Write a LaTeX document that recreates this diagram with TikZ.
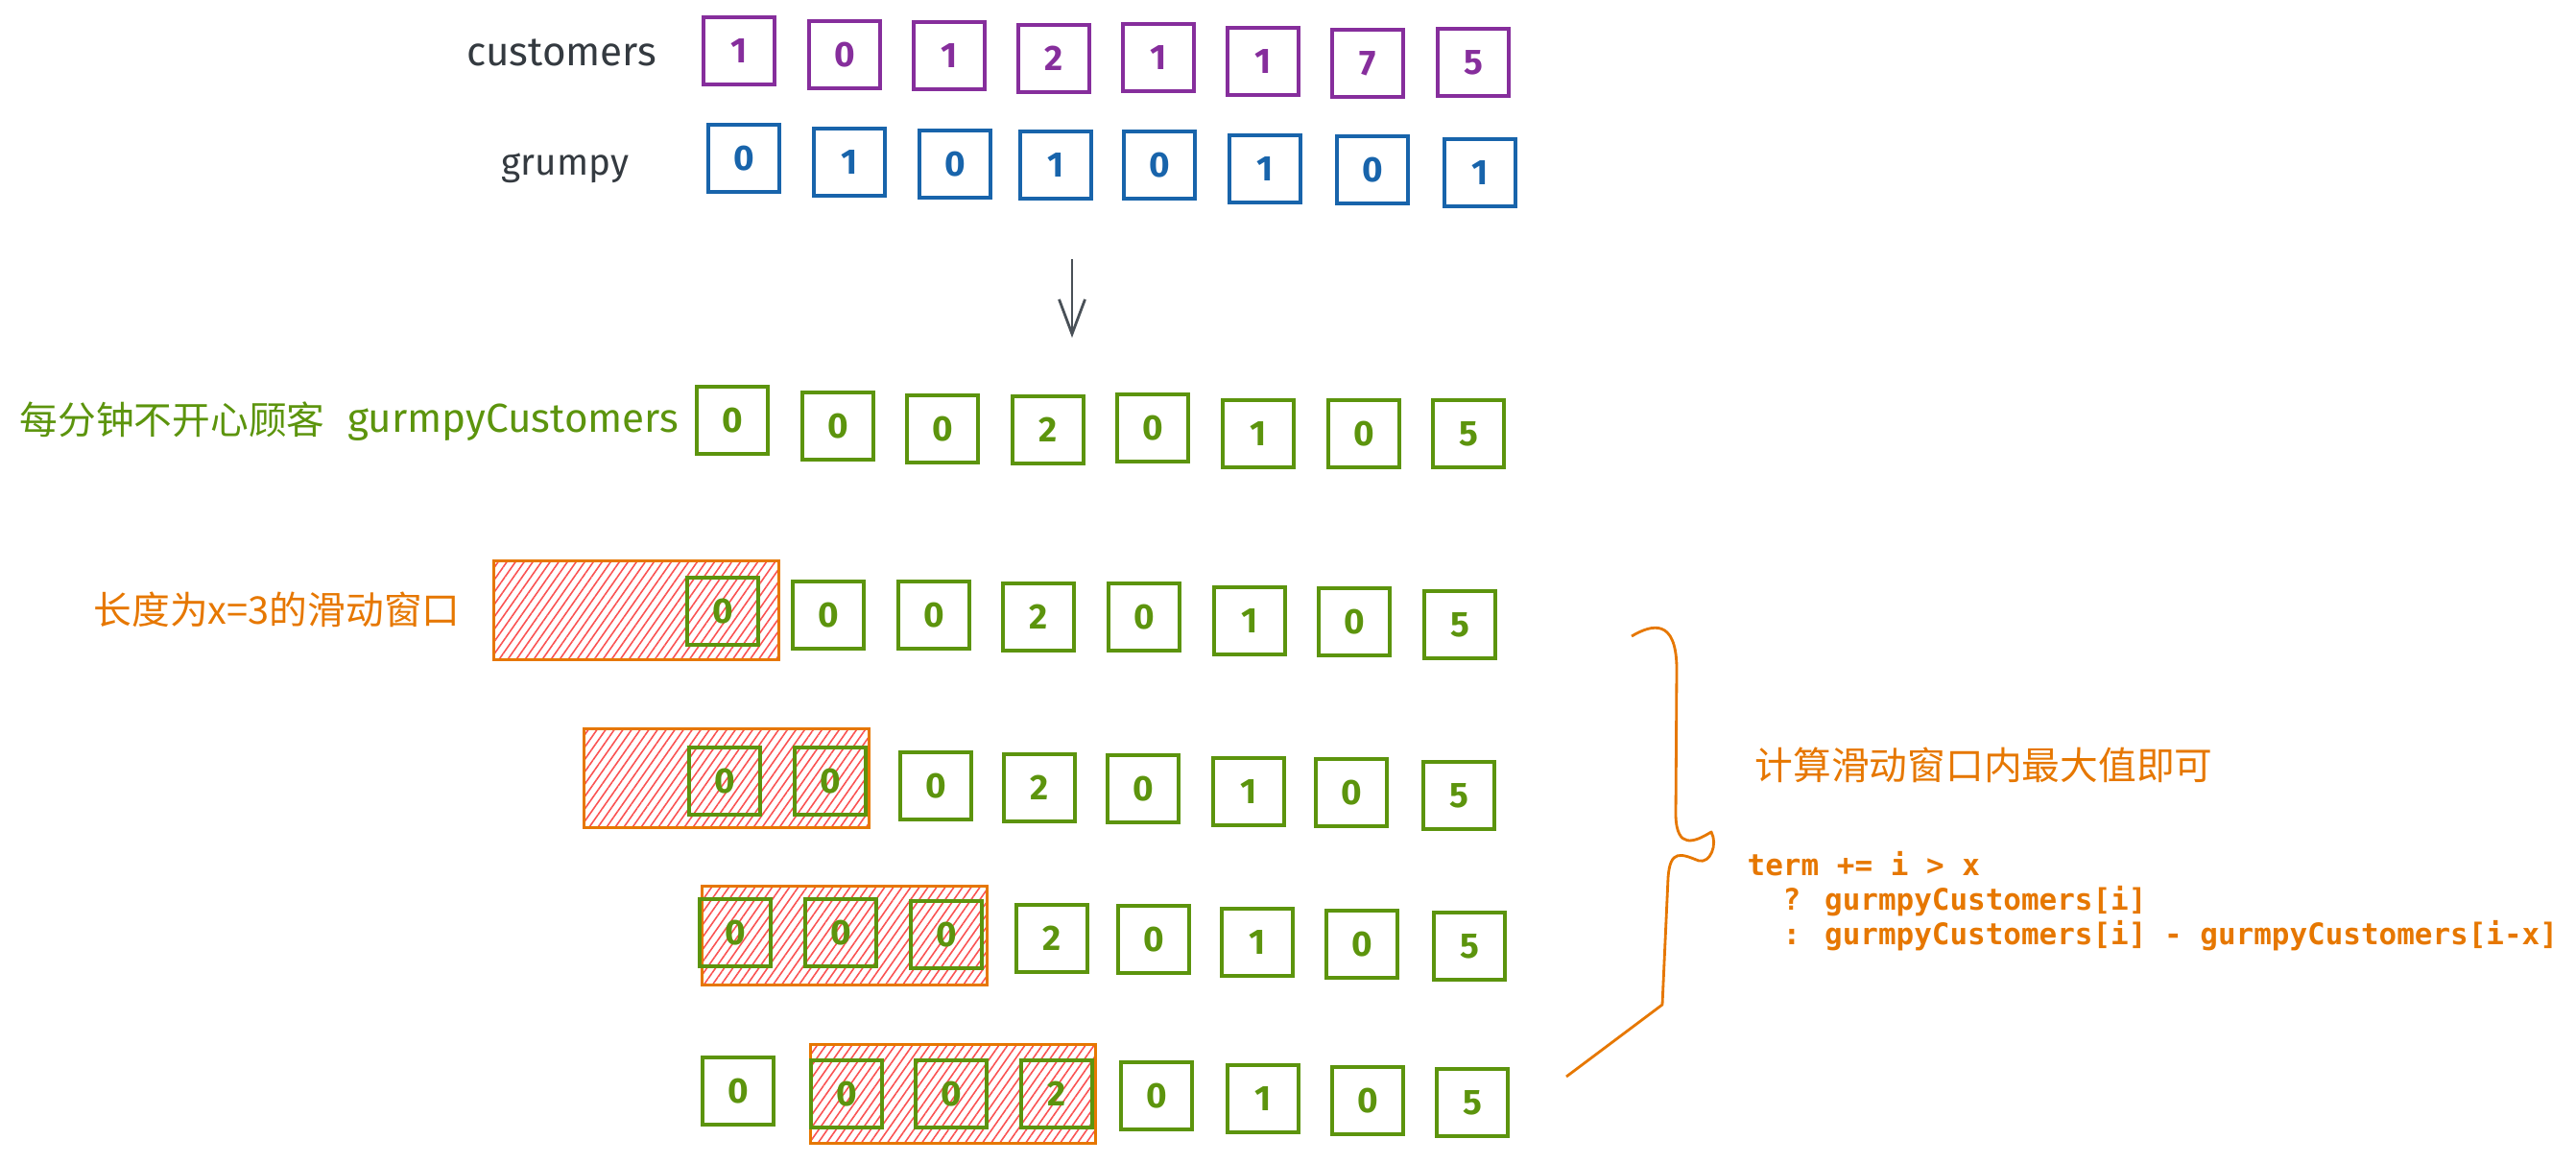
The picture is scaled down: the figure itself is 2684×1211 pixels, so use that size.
\documentclass[tikz,border=0pt]{standalone}
\usepackage{fontspec}
\setmainfont{Fira Sans}
\newfontfamily\cjk{Noto Sans CJK SC}
\newfontfamily\codefont{DejaVu Sans Mono}
\usetikzlibrary{arrows.meta,patterns.meta}
\definecolor{ink}{HTML}{343A40}
\definecolor{arrowgray}{HTML}{495057}
\definecolor{cellpurple}{HTML}{862E9C}
\definecolor{cellblue}{HTML}{1864AB}
\definecolor{cellgreen}{HTML}{5C940D}
\definecolor{winorange}{HTML}{E67700}
\definecolor{hatchred}{HTML}{FA5252}

\begin{document}
\begin{tikzpicture}[x=0.01cm,y=-0.01cm,>={Straight Barb[length=0.36cm,width=0.27cm]},
    cell/.style={draw,line width=0.9pt,minimum width=0.74cm,minimum height=0.70cm,inner sep=0pt,font=\bfseries\fontsize{10.5}{12}\selectfont},
    pcell/.style={cell,draw=cellpurple,text=cellpurple},
    bcell/.style={cell,draw=cellblue,text=cellblue},
    gcell/.style={cell,draw=cellgreen,text=cellgreen},
    window/.style={draw=winorange,line width=1pt,minimum width=2.97cm,minimum height=1.03cm,inner sep=0pt,
      pattern={Lines[angle=55,distance=2.1pt,line width=0.45pt]},pattern color=hatchred},
    rowlabel/.style={font=\fontsize{12}{14}\selectfont,inner sep=0pt,anchor=base east},
    cjklabel/.style={font=\cjk\fontsize{11.3}{13}\selectfont,inner sep=0pt,anchor=west},
    codeline/.style={font=\codefont\bfseries\fontsize{8.8}{10.5}\selectfont,text=winorange,inner sep=0pt,anchor=base west}]
  \useasboundingbox (0,0) rectangle (2684,1211);

  % input arrays
  \node[rowlabel,text=ink] (lcust) at (685,68) {customers};
  \foreach \i/\xx/\yy/\d in {1/770/53/1,2/880/57/0,3/989/58/1,4/1098/61/2,5/1207/60/1,6/1316/64/1,7/1425/66/7,8/1535/65/5}
    {\node[pcell] (c\i) at (\xx,\yy) {\d};}
  \node[rowlabel,text=ink,font=\fontsize{11}{13}\selectfont] (lgrum) at (656,182) {grumpy};
  \foreach \i/\xx/\yy/\d in {1/775/165/0,2/885/169/1,3/995/171/0,4/1100/172/1,5/1208/172/0,6/1318/176/1,7/1430/177/0,8/1542/180/1}
    {\node[bcell] (g\i) at (\xx,\yy) {\d};}

  \coordinate (down1) at (1117,270);
  \coordinate (down2) at (1117,352);
  \draw[->,draw=arrowgray,line width=0.8pt] (down1) -- (down2);

  % unhappy customers per minute
  \node[cjklabel,text=cellgreen] (lunhappy) at (20,437) {每分钟不开心顾客};
  \node[rowlabel,text=cellgreen] (lgc) at (708,450) {gurmpyCustomers};
  \foreach \i/\xx/\yy/\d in {1/763/438/0,2/873/444/0,3/982/447/0,4/1092/448/2,5/1201/446/0,6/1311/452/1,7/1421/452/0,8/1530/452/5}
    {\node[gcell] (p\i) at (\xx,\yy) {\d};}

  % sliding windows
  \node[cjklabel,text=winorange] (lwin) at (97,635) {长度为x=3的滑动窗口};
  \node[window] (w1) at (663,636) {};
  \node[window] (w2) at (757,811) {};
  \node[window] (w3) at (880,975) {};
  \node[window] (w4) at (993,1140) {};
  \foreach \i/\xx/\yy/\d in {1/753/637/0,2/863/641/0,3/973/641/0,4/1082/643/2,5/1192/643/0,6/1302/647/1,7/1411/648/0,8/1521/651/5}
    {\node[gcell] (a\i) at (\xx,\yy) {\d};}
  \foreach \i/\xx/\yy/\d in {1/755/814/0,2/865/814/0,3/975/819/0,4/1083/821/2,5/1191/822/0,6/1301/825/1,7/1408/826/0,8/1520/829/5}
    {\node[gcell] (b\i) at (\xx,\yy) {\d};}
  \foreach \i/\xx/\yy/\d in {1/766/972/0,2/876/972/0,3/986/974/0,4/1096/978/2,5/1202/979/0,6/1310/982/1,7/1419/984/0,8/1531/986/5}
    {\node[gcell] (s\i) at (\xx,\yy) {\d};}
  \foreach \i/\xx/\yy/\d in {1/769/1137/0,2/882/1140/0,3/991/1140/0,4/1101/1140/2,5/1205/1142/0,6/1316/1145/1,7/1425/1147/0,8/1534/1149/5}
    {\node[gcell] (t\i) at (\xx,\yy) {\d};}

  % brace and note
  \draw[winorange,line width=0.8pt,line join=round] (1700,663) .. controls (1722,650) and (1746,645) .. (1747,695)
    -- (1746,850) .. controls (1747,885) and (1765,878) .. (1783,867)
    .. controls (1790,880) and (1782,900) .. (1770,897) .. controls (1752,890) and (1740,884) .. (1738,915)
    -- (1732,1047) -- (1632,1122);
  \node[cjklabel,text=winorange] (lmax) at (1828,797) {计算滑动窗口内最大值即可};
  \node[codeline] (code1) at (1820,912) {term += i > x};
  \node[codeline] (code2) at (1857,948) {? gurmpyCustomers[i]};
  \node[codeline] (code3) at (1857,984) {: gurmpyCustomers[i] - gurmpyCustomers[i-x]};
\end{tikzpicture}
\end{document}
